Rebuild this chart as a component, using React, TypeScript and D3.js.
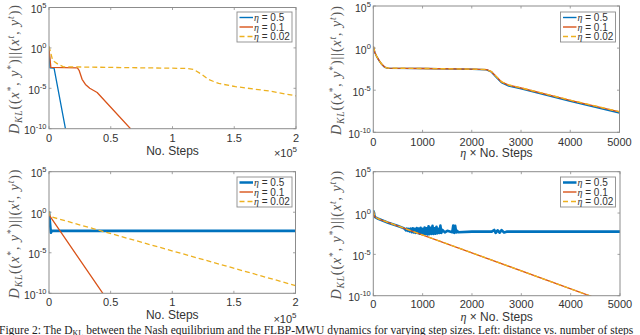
import React from 'react';
import * as d3 from 'd3';

// ---------- data ----------
const etaLabels = ['0.5', '0.1', '0.02'];
const yTickExps = [5, 0, -5, -10];
const stepTicks = [0, 50000, 100000, 150000, 200000];
const stepTickLabels = ['0', '0.5', '1', '1.5', '2'];
const etaStepTicks = [0, 1000, 2000, 3000, 4000, 5000];
const etaStepTickLabels = ['0', '1000', '2000', '3000', '4000', '5000'];

// top-left: no. steps
const tlBlueX = [0, 800, 4100, 13300];
const tlBlueY = [1.3, 3.5e-3, 3.2e-3, 1e-10];
const tlOrangeX = [0, 1500, 23000, 24500, 26800, 29500, 33000, 39000, 66000];
const tlOrangeY = [0.8, 4e-3, 3.3e-3, 1.5e-3, 1.3e-4, 3e-5, 1e-5, 3e-6, 1e-10];
const tlYellowX = [0, 3000, 7600, 11700, 111500, 117000, 123800, 129000, 137400, 151000, 178000, 200000];
const tlYellowY = [1.6, 0.028, 8.9e-3, 4.6e-3, 2.9e-3, 2.2e-3, 5.2e-4, 1.26e-4, 4e-5, 1.6e-5, 4.7e-6, 1.15e-6];

// top-right: eta x no. steps
const trX = [0, 30, 70, 120, 170, 230, 300, 1000, 2000, 2300, 2400, 2500, 2600, 2750, 3000, 4000, 5000];
const trBlueY = [1.6, 0.3, 0.095, 0.03, 0.012, 5.4e-3, 4.1e-3, 3.7e-3, 3.1e-3, 2.7e-3, 1.4e-3, 3.2e-4, 8e-5, 3.2e-5, 1.5e-5, 5e-7, 2e-8];
const trOrangeY = [1.6, 0.32, 0.1, 0.032, 0.0126, 5.6e-3, 4.2e-3, 3.8e-3, 3.2e-3, 2.8e-3, 1.6e-3, 4e-4, 1e-4, 4e-5, 1.8e-5, 6.3e-7, 2.7e-8];
const trYellowY = [1.6, 0.32, 0.1, 0.032, 0.0126, 5.6e-3, 4.2e-3, 3.8e-3, 3.2e-3, 2.8e-3, 1.6e-3, 4.1e-4, 1.05e-4, 4.2e-5, 1.9e-5, 6.6e-7, 2.8e-8];

// bottom-left: no. steps
const blBlueX = [0, 1500, 2500, 200000];
const blBlueY = [1.3, 3e-3, 5e-3, 5e-3];
const blOrangeX = [0, 600, 45000];
const blOrangeY = [1.0, 0.35, 5e-11];
const blYellowX = [0, 800, 200000];
const blYellowY = [1.4, 0.3, 9e-10];

// bottom-right: eta x no. steps
const brBlueX = [0, 30, 100, 300, 500, 600, 640, 660, 680, 700, 720, 740, 760, 780, 800, 820, 840, 860, 880, 900,
  920, 940, 960, 980, 1000, 1020, 1040, 1060, 1080, 1100, 1120, 1140, 1160, 1180, 1200, 1220, 1240, 1260, 1280,
  1300, 1320, 1340, 1360, 1380, 1400, 1450, 1500, 1600, 1620, 1640, 1660, 1680, 1700, 1720, 2000, 2400, 2450,
  2480, 2520, 2560, 2600, 2650, 2700, 3000, 5000];
const brBlueY = [2.0, 0.35, 0.2, 0.068, 0.027, 0.016, 0.012, 0.008, 0.013, 0.007, 0.012, 0.006, 0.013, 0.005, 0.014,
  0.0045, 0.012, 0.004, 0.015, 0.0038, 0.013, 0.0032, 0.016, 0.003, 0.012, 0.0028, 0.018, 0.003, 0.014, 0.0025,
  0.025, 0.0028, 0.016, 0.003, 0.028, 0.003, 0.014, 0.0032, 0.022, 0.0035, 0.012, 0.0038, 0.03, 0.004, 0.009,
  0.0045, 0.007, 0.0048, 0.03, 0.004, 0.028, 0.0045, 0.007, 0.0048, 0.0056, 0.0056, 0.009, 0.004, 0.008, 0.0042,
  0.0085, 0.0045, 0.0056, 0.0056, 0.0056];
const brOrangeX = [0, 30, 100, 4500];
const brOrangeY = [2.0, 0.35, 0.2, 5.5e-11];
const brYellowX = [0, 30, 100, 4500];
const brYellowY = [2.1, 0.36, 0.205, 5.6e-11];

// ---------- styling ----------
const COLORS = ['#0072BD', '#D95319', '#EDB120'];
const SANS = "'Liberation Sans', Arial, Helvetica, sans-serif";
const SERIF = "'Liberation Serif', 'DejaVu Serif', 'Times New Roman', serif";
const AXIS = '#8c8c8c';
const TEXT = '#333';

type Series = { x: number[]; y: number[]; color: string; width: number; dash?: string };

const zip = (xs: number[], ys: number[]) => xs.map((v, i) => [v, ys[i]] as [number, number]);

function YLabel({ x, y }: { x: number; y: number }) {
  const fs = 14;
  const sub = 9.5;
  return (
    <text transform={`translate(${x},${y}) rotate(-90)`} textAnchor="middle" fontFamily={SERIF} fontSize={fs}
      fill="#555" letterSpacing={0.9}>
      <tspan fontStyle="italic">D</tspan>
      <tspan fontStyle="italic" fontSize={sub} dy={3}>KL</tspan>
      <tspan dy={-3}>((</tspan>
      <tspan fontStyle="italic">x</tspan>
      <tspan fontSize={sub} dy={-5}>*</tspan>
      <tspan dy={5}>, </tspan>
      <tspan fontStyle="italic">y</tspan>
      <tspan fontSize={sub} dy={-5}>*</tspan>
      <tspan dy={5}>)||(</tspan>
      <tspan fontStyle="italic">x</tspan>
      <tspan fontStyle="italic" fontSize={sub} dy={-5}>t</tspan>
      <tspan dy={5}>, </tspan>
      <tspan fontStyle="italic">y</tspan>
      <tspan fontStyle="italic" fontSize={sub} dy={-5}>t</tspan>
      <tspan dy={5}>))</tspan>
    </text>
  );
}

type PanelProps = {
  id: string;
  l: number; r: number; t: number; b: number;
  xMax: number; xTicks: number[]; xTickLabels: string[];
  tickY: number; xLabelY: number; etaLabel: boolean; expY?: number;
  legendX: number; legendY: number; thickBlue: boolean;
  ylabX: number;
  series: Series[];
};

function Panel(p: PanelProps) {
  const x = d3.scaleLinear().domain([0, p.xMax]).range([p.l, p.r]);
  const y = d3.scaleLog().domain([1e-10, 1e5]).range([p.b, p.t]);
  const line = d3.line<[number, number]>().x(d => x(d[0])).y(d => y(d[1]));
  const tk = 2.5;
  return (
    <g>
      <defs>
        <clipPath id={p.id}>
          <rect x={p.l} y={p.t} width={p.r - p.l} height={p.b - p.t} />
        </clipPath>
      </defs>
      <rect x={p.l} y={p.t} width={p.r - p.l} height={p.b - p.t} fill="#fff" />
      <g clipPath={`url(#${p.id})`}>
        {p.series.map((s, i) => (
          <path key={i} d={line(zip(s.x, s.y)) || ''} fill="none" stroke={s.color} strokeWidth={s.width}
            strokeDasharray={s.dash} strokeLinejoin="round" />
        ))}
      </g>
      {p.xTicks.map((v, i) => (
        <g key={'xt' + i}>
          <line x1={x(v)} x2={x(v)} y1={p.b} y2={p.b - tk} stroke={AXIS} strokeWidth={0.8} />
          <line x1={x(v)} x2={x(v)} y1={p.t} y2={p.t + tk} stroke={AXIS} strokeWidth={0.8} />
          <text x={x(v)} y={p.tickY} textAnchor="middle" fontFamily={SANS} fontSize={11} fill={TEXT}>{p.xTickLabels[i]}</text>
        </g>
      ))}
      {yTickExps.map((e, i) => (
        <g key={'yt' + i}>
          <line x1={p.l} x2={p.l + tk} y1={y(Math.pow(10, e))} y2={y(Math.pow(10, e))} stroke={AXIS} strokeWidth={0.8} />
          <line x1={p.r} x2={p.r - tk} y1={y(Math.pow(10, e))} y2={y(Math.pow(10, e))} stroke={AXIS} strokeWidth={0.8} />
          <text x={p.l - 2.5} y={y(Math.pow(10, e)) + 5.5} textAnchor="end" fontFamily={SANS} fontSize={10.5} fill={TEXT}>
            <tspan>10</tspan>
            <tspan fontSize={7.5} dy={-5}>{String(e)}</tspan>
          </text>
        </g>
      ))}
      <rect x={p.l} y={p.t} width={p.r - p.l} height={p.b - p.t} fill="none" stroke={AXIS} strokeWidth={1} />
      {p.etaLabel ? (
        <text x={(p.l + p.r) / 2} y={p.xLabelY} textAnchor="middle" fontFamily={SANS} fontSize={12} fill={TEXT}>
          <tspan fontFamily={SERIF} fontStyle="italic">η</tspan>
          <tspan> × No. Steps</tspan>
        </text>
      ) : (
        <text x={(p.l + p.r) / 2} y={p.xLabelY} textAnchor="middle" fontFamily={SANS} fontSize={12} fill={TEXT}>No. Steps</text>
      )}
      {p.expY !== undefined && (
        <text x={p.r + 1} y={p.expY} textAnchor="end" fontFamily={SANS} fontSize={11} fill={TEXT}>
          <tspan>×10</tspan>
          <tspan fontSize={8} dy={-5}>5</tspan>
        </text>
      )}
      <YLabel x={p.ylabX} y={(p.t + p.b) / 2 + 1} />
      <g>
        <rect x={p.legendX} y={p.legendY} width={55} height={30} fill="#fff" stroke={AXIS} strokeWidth={0.9} />
        {etaLabels.map((lab, i) => {
          const ly = p.legendY + 5.5 + i * 9.5;
          const s = p.series[i];
          return (
            <g key={'lg' + i}>
              <line x1={p.legendX + 2.5} x2={p.legendX + 16} y1={ly} y2={ly} stroke={s.color}
                strokeWidth={i === 0 && p.thickBlue ? 2.5 : 1.4} strokeDasharray={s.dash} />
              <text x={p.legendX + 17} y={ly + 3.5} fontFamily={SANS} fontSize={10} fill={TEXT}>
                <tspan fontFamily={SERIF} fontStyle="italic">η</tspan>
                <tspan>{' = ' + lab}</tspan>
              </text>
            </g>
          );
        })}
      </g>
    </g>
  );
}

export default function App() {
  const dash = '5,3';
  return (
    <svg width={640} height={335} viewBox="0 0 640 335" style={{ position: 'absolute', left: 0, top: 0, background: '#fff' }}>
      <rect x={0} y={0} width={640} height={335} fill="#fff" />
      <Panel id="cTL" l={49} r={296} t={7.5} b={128.7} xMax={200000} xTicks={stepTicks} xTickLabels={stepTickLabels}
        tickY={141.5} xLabelY={154.5} etaLabel={false} expY={157} legendX={237} legendY={12} thickBlue={false} ylabX={19}
        series={[
          { x: tlBlueX, y: tlBlueY, color: COLORS[0], width: 1.3 },
          { x: tlOrangeX, y: tlOrangeY, color: COLORS[1], width: 1.3 },
          { x: tlYellowX, y: tlYellowY, color: COLORS[2], width: 1.3, dash },
        ]} />
      <Panel id="cTR" l={373.3} r={619.5} t={6} b={132.3} xMax={5000} xTicks={etaStepTicks} xTickLabels={etaStepTickLabels}
        tickY={145.5} xLabelY={157} etaLabel={true} legendX={560.5} legendY={12} thickBlue={false} ylabX={341}
        series={[
          { x: trX, y: trBlueY, color: COLORS[0], width: 1.5 },
          { x: trX, y: trOrangeY, color: COLORS[1], width: 1.4 },
          { x: trX, y: trYellowY, color: COLORS[2], width: 1.4, dash },
        ]} />
      <Panel id="cBL" l={49} r={295.5} t={171.7} b={293.3} xMax={200000} xTicks={stepTicks} xTickLabels={stepTickLabels}
        tickY={306} xLabelY={318.5} etaLabel={false} expY={323} legendX={237} legendY={177} thickBlue={true} ylabX={19}
        series={[
          { x: blBlueX, y: blBlueY, color: COLORS[0], width: 2.6 },
          { x: blOrangeX, y: blOrangeY, color: COLORS[1], width: 1.3 },
          { x: blYellowX, y: blYellowY, color: COLORS[2], width: 1.3, dash },
        ]} />
      <Panel id="cBR" l={373.3} r={620} t={171.7} b={295.7} xMax={5000} xTicks={etaStepTicks} xTickLabels={etaStepTickLabels}
        tickY={308} xLabelY={320.5} etaLabel={true} legendX={560.5} legendY={177} thickBlue={true} ylabX={341}
        series={[
          { x: brBlueX, y: brBlueY, color: COLORS[0], width: 2.6 },
          { x: brOrangeX, y: brOrangeY, color: COLORS[1], width: 1.3 },
          { x: brYellowX, y: brYellowY, color: COLORS[2], width: 1.3, dash },
        ]} />
      <text x={-1} y={334} fontFamily={SERIF} fontSize={11.5} fill="#222">
        Figure 2: The D<tspan fontSize={8} dy={2}>KL</tspan><tspan dy={-2}> between the Nash equilibrium and the FLBP-MWU dynamics for varying step sizes. Left: distance vs. number of steps</tspan>
      </text>
    </svg>
  );
}
